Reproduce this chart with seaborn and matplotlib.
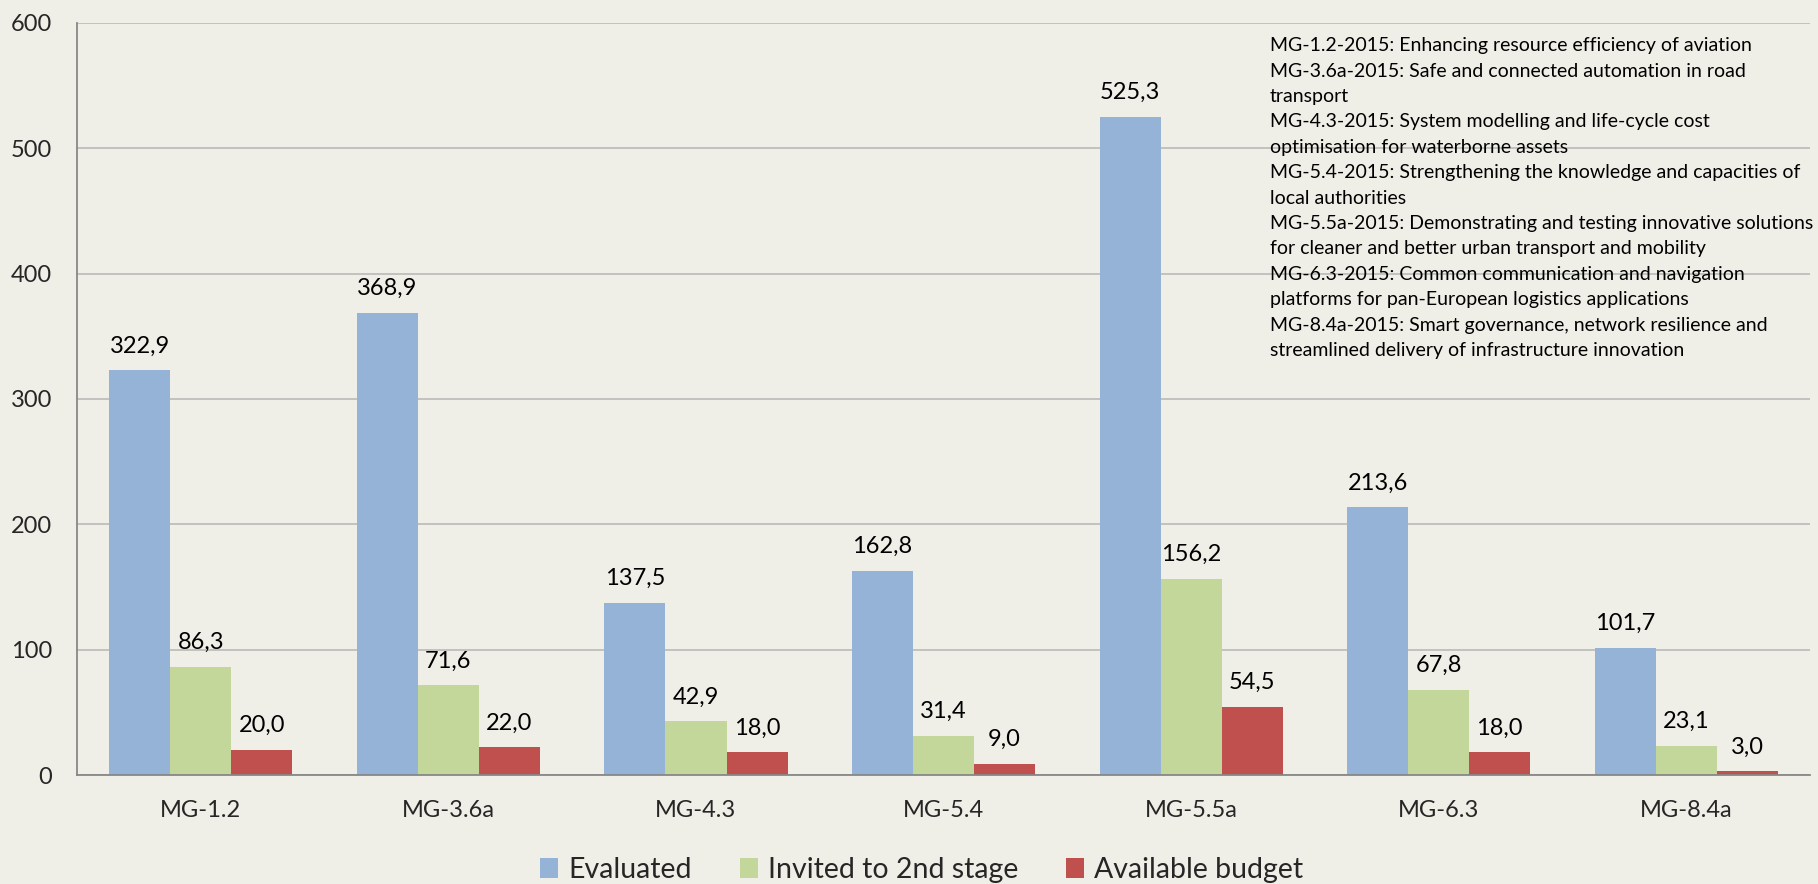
import matplotlib
matplotlib.use("Agg")
import matplotlib.pyplot as plt
import seaborn as sns
import pandas as pd

categories = ["MG-1.2", "MG-3.6a", "MG-4.3", "MG-5.4", "MG-5.5a", "MG-6.3", "MG-8.4a"]
evaluated = [322.9, 368.9, 137.5, 162.8, 525.3, 213.6, 101.7]
invited = [86.3, 71.6, 42.9, 31.4, 156.2, 67.8, 23.1]
budget = [20.0, 22.0, 18.0, 9.0, 54.5, 18.0, 3.0]
series_names = ["Evaluated", "Invited to 2nd stage", "Available budget"]
colors = ["#95B3D7", "#C4D79B", "#C0504D"]
y_ticks = [0, 100, 200, 300, 400, 500, 600]

topic_notes = [
    "MG-1.2-2015: Enhancing resource efficiency of aviation",
    "MG-3.6a-2015: Safe and connected automation in road",
    "transport",
    "MG-4.3-2015: System modelling and life-cycle cost",
    "optimisation for waterborne assets",
    "MG-5.4-2015: Strengthening the knowledge and capacities of",
    "local authorities",
    "MG-5.5a-2015: Demonstrating and testing innovative solutions",
    "for cleaner and better urban transport and mobility",
    "MG-6.3-2015: Common communication and navigation",
    "platforms for pan-European logistics applications",
    "MG-8.4a-2015: Smart governance, network resilience and",
    "streamlined delivery of infrastructure innovation",
]

bg = "#F0EFE7"
grid_col = "#BEBEBE"
axis_col = "#878787"

sns.set_theme(style="white")
plt.rcParams["font.family"] = ["Lato", "DejaVu Sans"]

df = pd.DataFrame({
    "topic": categories * 3,
    "series": sum([[s] * len(categories) for s in series_names], []),
    "value": evaluated + invited + budget,
})

fig = plt.figure(figsize=(18.18, 8.84), dpi=100, facecolor=bg)
ax = fig.add_axes([0.0424, 0.1233, 0.9532, 0.8507], facecolor=bg)

sns.barplot(data=df, x="topic", y="value", hue="series", hue_order=series_names,
            palette=colors, saturation=1, width=0.74, gap=0, linewidth=0,
            legend=False, errorbar=None, ax=ax)

for cont, vals in zip(ax.containers, [evaluated, invited, budget]):
    ax.bar_label(cont, labels=[f"{v:.1f}".replace(".", ",") for v in vals],
                 padding=10, fontsize=17, color="black")

ax.set_xlim(-0.5, len(categories) - 0.5)
ax.set_ylim(0, 600)
ax.set_yticks(y_ticks)
ax.set_xlabel("")
ax.set_ylabel("")
ax.set_axisbelow(True)
ax.yaxis.grid(True, color=grid_col, linewidth=1.3)

for side in ["top", "right"]:
    ax.spines[side].set_visible(False)
for side in ["left", "bottom"]:
    ax.spines[side].set_color(axis_col)
    ax.spines[side].set_linewidth(1.3)

ax.set_xticks([i - 0.5 for i in range(len(categories) + 1)], minor=True)
ax.tick_params(axis="x", which="major", length=0, pad=18, labelsize=17)
ax.tick_params(axis="x", which="minor", length=6, width=1.3, color=axis_col, direction="out")
ax.tick_params(axis="y", which="major", length=6, width=1.3, color=axis_col,
               direction="out", pad=12, labelsize=17)

fig.text(0.6986, 0.958, "\n".join(topic_notes), ha="left", va="top",
         fontsize=14, linespacing=1.6, color="black")

fig.legend(handles=list(ax.containers), labels=series_names, loc="center",
           bbox_to_anchor=(0.507, 0.016), ncol=3, frameon=False, fontsize=20.5,
           handlelength=0.62, handleheight=0.7, handletextpad=0.35,
           columnspacing=1.7)

fig.savefig("out.png", dpi=100, facecolor=bg)
